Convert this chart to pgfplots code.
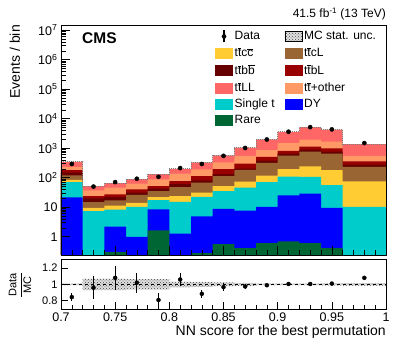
\documentclass[border=0pt]{standalone}
\usepackage{fontspec}
\setmainfont{Liberation Sans}
\usepackage{pgfplots}
\usepackage{pgfplotstable}
\pgfplotsset{compat=1.18}
\usetikzlibrary{patterns}

\definecolor{cRare}{RGB}{0,102,51}
\definecolor{cDY}{RGB}{0,0,255}
\definecolor{cST}{RGB}{0,204,204}
\definecolor{cCC}{RGB}{255,204,51}
\definecolor{cCL}{RGB}{153,102,51}
\definecolor{cBB}{RGB}{102,0,0}
\definecolor{cBL}{RGB}{153,0,0}
\definecolor{cOth}{RGB}{255,153,102}
\definecolor{cLL}{RGB}{255,102,102}

\newcommand{\ol}[1]{\ensuremath{\overline{\mbox{#1}}}}
\newcommand{\fs}[1]{\fontsize{#1}{#1}\selectfont}
\tikzset{mcunc/.style={fill=gray!25, postaction={pattern=crosshatch dots, pattern color=gray!60!black}}}

% cumulative stack tops per bin (left edge); first/last rows close the fill below ymin
\pgfplotstableread{
x    rare dy   st   cc   cl   bb   bl   oth  ll
0.70 0.1  0.1  0.1  0.1  0.1  0.1  0.1  0.1  0.1
0.70 0.1  21.5 71   84   121  149  179  234  345
0.72 0.1  0.1  7.3  9.5  14.8 19.9 23.7 37   52
0.74 0.3  2.2  8.3  11.4 17   22   27   46   66
0.76 0.1  0.98 10.3 14   26   31   40   63   90
0.78 1.64 8.4  17.4 22   35   43   52   88   132
0.80 0.1  1.27 15.3 23.7 48   60   77   138  200
0.82 0.28 4.9  22.6 31   68   81   114  193  330
0.84 0.56 8.8  35   52   114  131  195  330  570
0.86 0.41 7.7  46   74   183  204  302  550  1040
0.88 0.61 10.3 71   118  320  380  510  860  1990
0.90 0.7  25   109  194  560  650  815  1490 3600
0.92 0.61 29   106  240  760  900  1120 1940 5150
0.94 0.41 9.5  56   179  650  760  985  1660 4300
0.96 0.1  0.1  10.3 75   235  280  355  550  1380
1.00 0.1  0.1  10.3 75   235  280  355  550  1380
1.00 0.1  0.1  0.1  0.1  0.1  0.1  0.1  0.1  0.1
}\stack

\pgfplotstableread{
x    y    ey   r     er
0.71 292  17   0.845 0.045
0.73 50   7    0.96  0.14
0.75 71   8.4  1.08  0.15
0.77 92   9.6  1.02  0.12
0.79 107  10.3 0.81  0.09
0.81 212  14.6 1.06  0.08
0.83 292  17   0.885 0.05
0.85 551  23.5 0.967 0.045
0.87 1015 32   0.975 0.03
0.89 1970 44   0.99  0.018
0.91 3620 60   1.005 0.013
0.93 5180 72   1.005 0.011
0.95 4340 66   1.01  0.012
0.98 1490 39   1.08  0.025
}\data

% MC stat. uncertainty band in the ratio panel (outline of the band)
\pgfplotstableread{
x    y
0.70 1.01
0.72 1.01
0.72 1.07
0.76 1.07
0.76 1.065
0.80 1.065
0.80 1.035
0.82 1.035
0.82 1.03
0.84 1.03
0.84 1.025
0.86 1.025
0.86 1.02
0.88 1.02
0.88 1.008
0.94 1.008
0.94 1.012
0.96 1.012
0.96 1.015
1.00 1.015
1.00 0.985
0.96 0.985
0.96 0.988
0.94 0.988
0.94 0.992
0.88 0.992
0.88 0.98
0.86 0.98
0.86 0.975
0.84 0.975
0.84 0.97
0.82 0.97
0.82 0.965
0.80 0.965
0.80 0.935
0.76 0.935
0.76 0.93
0.72 0.93
0.72 0.99
0.70 0.99
}\band

\begin{document}
\begin{tikzpicture}
\path[use as bounding box] (-61pt,-89pt) rectangle (346pt,255pt);

\begin{axis}[
  at={(0pt,0pt)}, anchor=south west,
  scale only axis, width=325pt, height=230pt,
  xmin=0.7, xmax=1.0,
  ymode=log, ymin=0.24, ymax=1.5e7,
  axis on top,
  axis line style={line width=0.8pt},
  tick align=inside, xtick pos=bottom, ytick pos=left,
  xtick={0.7,0.75,0.8,0.85,0.9,0.95,1}, xticklabels={},
  minor x tick num=4,
  ytick={1,10,100,1000,1e4,1e5,1e6,1e7},
  yticklabels={1,10,10\textsuperscript{2},10\textsuperscript{3},10\textsuperscript{4},10\textsuperscript{5},10\textsuperscript{6},10\textsuperscript{7}},
  yticklabel style={font=\fs{12.5}},
  major tick length=9pt, minor tick length=5pt,
  every tick/.style={black, line width=0.6pt},
  legend style={at={(axis description cs:0.465,0.99)}, anchor=north west,
    draw=none, fill=none, font=\fs{12}, row sep=1.8pt,
    /tikz/every even column/.append style={column sep=8pt}},
  legend columns=2, legend cell align=left,
]
\addplot[const plot, fill=cLL, draw=none, forget plot] table[x=x, y=ll] {\stack};
\addplot[const plot, fill=cOth, draw=none, forget plot] table[x=x, y=oth] {\stack};
\addplot[const plot, fill=cBL, draw=none, forget plot] table[x=x, y=bl] {\stack};
\addplot[const plot, fill=cBB, draw=none, forget plot] table[x=x, y=bb] {\stack};
\addplot[const plot, fill=cCL, draw=none, forget plot] table[x=x, y=cl] {\stack};
\addplot[const plot, fill=cCC, draw=none, forget plot] table[x=x, y=cc] {\stack};
\addplot[const plot, fill=cST, draw=none, forget plot] table[x=x, y=st] {\stack};
\addplot[const plot, fill=cDY, draw=none, forget plot] table[x=x, y=dy] {\stack};
\addplot[const plot, fill=cRare, draw=none, forget plot] table[x=x, y=rare] {\stack};
\addplot[const plot, gray, densely dotted, line width=1pt, forget plot] table[x=x, y=ll] {\stack};

\addplot[only marks, mark=*, mark size=2.1pt, black, forget plot,
  error bars/.cd, y dir=both, y explicit, error mark=none,
  error bar style={line width=1.2pt}]
  table[x=x, y=y, y error=ey] {\data};

\addlegendimage{legend image code/.code={\draw[line width=1.2pt] (8.5pt,-6pt)--(8.5pt,6pt); \fill (8.5pt,0pt) circle (2.1pt);}}
\addlegendentry{Data}
\addlegendimage{legend image code/.code={\path[mcunc] (0pt,-5pt) rectangle (17pt,5pt);}}
\addlegendentry{MC stat. unc.}
\addlegendimage{legend image code/.code={\fill[cCC] (0pt,-5pt) rectangle (17pt,5pt);}}
\addlegendentry{t\ol{t}c\ol{c}}
\addlegendimage{legend image code/.code={\fill[cCL] (0pt,-5pt) rectangle (17pt,5pt);}}
\addlegendentry{t\ol{t}cL}
\addlegendimage{legend image code/.code={\fill[cBB] (0pt,-5pt) rectangle (17pt,5pt);}}
\addlegendentry{t\ol{t}b\ol{b}}
\addlegendimage{legend image code/.code={\fill[cBL] (0pt,-5pt) rectangle (17pt,5pt);}}
\addlegendentry{t\ol{t}bL}
\addlegendimage{legend image code/.code={\fill[cLL] (0pt,-5pt) rectangle (17pt,5pt);}}
\addlegendentry{t\ol{t}LL}
\addlegendimage{legend image code/.code={\fill[cOth] (0pt,-5pt) rectangle (17pt,5pt);}}
\addlegendentry{t\ol{t}+other}
\addlegendimage{legend image code/.code={\fill[cST] (0pt,-5pt) rectangle (17pt,5pt);}}
\addlegendentry{Single t}
\addlegendimage{legend image code/.code={\fill[cDY] (0pt,-5pt) rectangle (17pt,5pt);}}
\addlegendentry{DY}
\addlegendimage{legend image code/.code={\fill[cRare] (0pt,-5pt) rectangle (17pt,5pt);}}
\addlegendentry{Rare}
\end{axis}

\begin{axis}[
  at={(0pt,-4pt)}, anchor=north west,
  scale only axis, width=325pt, height=50pt,
  xmin=0.7, xmax=1.0, ymin=0.7, ymax=1.31,
  axis on top,
  axis line style={line width=0.8pt},
  tick align=inside, xtick pos=bottom, ytick pos=left,
  xtick={0.7,0.75,0.8,0.85,0.9,0.95,1},
  minor x tick num=4,
  ytick={0.8,1,1.2},
  major tick length=7pt, minor tick length=4pt,
  every tick/.style={black, line width=0.6pt},
  xticklabel style={font=\fs{12.5}},
  yticklabel style={font=\fs{11}},
  /pgf/number format/assume math mode=true,
]
\addplot[mcunc, draw=none] table[x=x, y=y] {\band};
\addplot[black, dashed, line width=0.8pt] coordinates {(0.7,1) (1.0,1)};
\addplot[only marks, mark=*, mark size=2pt, black,
  error bars/.cd, y dir=both, y explicit, error mark=none,
  error bar style={line width=1.2pt}]
  table[x=x, y=r, y error=er] {\data};
\end{axis}

\node[anchor=base east, inner sep=0pt, font=\fs{12}] at (325pt,237pt) {41.5 fb\textsuperscript{-1} (13 TeV)};
\node[anchor=base west, inner sep=0pt, font=\bfseries\fs{15.5}] at (21pt,211.5pt) {CMS};
\node[anchor=base east, inner sep=0pt, rotate=90, font=\fs{14}] at (-41pt,230pt) {Events / bin};
\node[anchor=base east, inner sep=0pt, font=\fs{14}] at (325pt,-81pt) {NN score for the best permutation};
\node[rotate=90, inner sep=0pt, font=\fs{11}] at (-41pt,-30pt) {\ensuremath{\displaystyle\frac{\mbox{Data}}{\mbox{MC}}}};
\end{tikzpicture}
\end{document}
